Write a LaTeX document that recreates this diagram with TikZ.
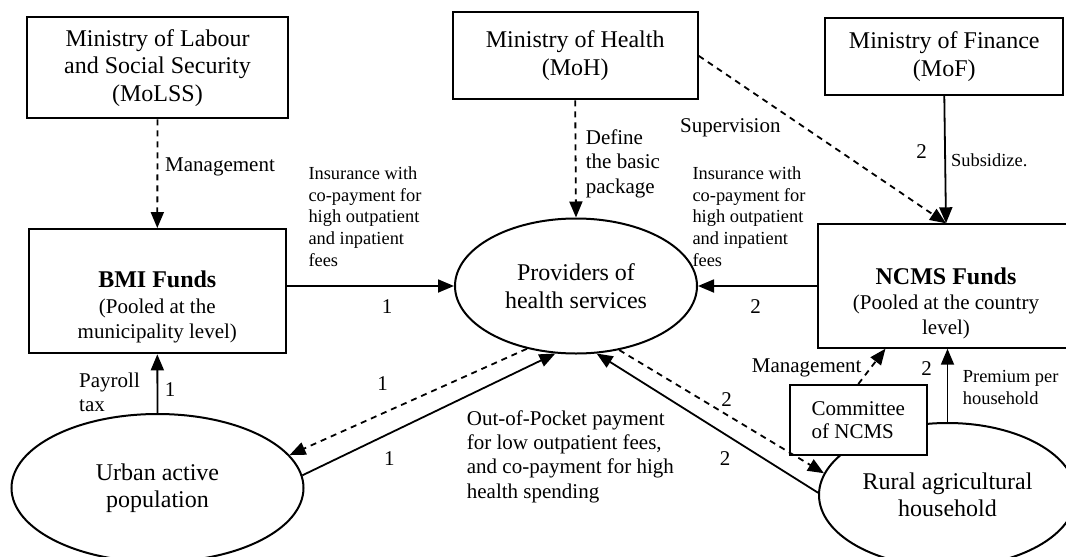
\documentclass[tikz,border=0pt]{standalone}
\usepackage{fontspec}
\setmainfont{Liberation Serif}
\usetikzlibrary{arrows.meta,shapes.geometric}
\newcommand\diagbig{\fontsize{24}{27.5}\selectfont}
\newcommand\diagmid{\fontsize{21}{24.4}\selectfont}
\newcommand\diagsmall{\fontsize{18.4}{21.7}\selectfont}
\begin{document}
\begin{tikzpicture}[x=1pt,y=-1pt,
  box/.style={draw, line width=2pt, rectangle, inner sep=0pt, align=center, font=\diagbig},
  oval/.style={draw, line width=2pt, ellipse, inner sep=0pt, align=center, font=\diagbig},
  flow/.style={line width=1.8pt, -{Triangle[length=16pt,width=13pt]}},
  ctrl/.style={flow, dash pattern=on 6pt off 5pt},
  lbl/.style={inner sep=0pt, align=left, font=\diagmid},
  small/.style={inner sep=0pt, align=left, font=\diagsmall},
  num/.style={inner sep=0pt, font=\diagmid},
]
\useasboundingbox (0,0) rectangle (1066,557);

% ministries
\node[box, minimum width=261.6pt, minimum height=101pt] (molss) at (157.5,67.8)
  {Ministry of Labour\\and Social Security\\(MoLSS)};
\node[box, minimum width=245pt, minimum height=87pt] (moh) at (575.2,55.8)
  {Ministry of Health\\(MoH)};
\node[box, minimum width=238pt, minimum height=76.7pt] (mof) at (944.3,56.7)
  {Ministry of Finance\\(MoF)};

% pooled funds
\node[box, minimum width=256.7pt, minimum height=124.3pt] (bmi) at (157.3,291.2) {};
\node[inner sep=0pt, align=center, font=\fontsize{21}{25.5}\selectfont] (bmitext) at (157.3,307)
  {{\fontsize{24}{25.5}\selectfont\bfseries BMI Funds}\\(Pooled at the\\municipality level)};
\node[box, minimum width=256pt, minimum height=123.4pt] (ncms) at (946,286) {};
\node[inner sep=0pt, align=center, font=\fontsize{21}{25}\selectfont] (ncmstext) at (946,303)
  {{\fontsize{24}{25}\selectfont\bfseries NCMS Funds}\\(Pooled at the country\\level)};

% providers and population groups
\node[oval, minimum width=242pt, minimum height=135pt] (prov) at (576,286)
  {Providers of\\health services};
\node[oval, minimum width=292pt, minimum height=148pt] (urban) at (157.5,488)
  {Urban active\\population};
\node[oval, minimum width=257pt, minimum height=144pt] (rural) at (947.5,495)
  {Rural agricultural\\household};
\node[box, fill=white, minimum width=136.7pt, minimum height=70pt, align=left,
  font=\fontsize{21}{23.3}\selectfont] (comm) at (858.3,420)
  {Committee\\of NCMS};

% management and supervision
\draw[ctrl] (molss.south) -- (bmi.north);
\draw[ctrl] (moh.south) -- (prov.north);
\draw[ctrl] (moh.east) -- (ncms.north);
\draw[flow] (mof.south) -- (ncms.north);
\draw[ctrl] (comm.north) -- (ncms.226.4);

% insurance payments to providers
\draw[flow] (bmi.east |- prov.west) -- (prov.west);
\draw[flow] (ncms.west |- prov.east) -- (prov.east);

% contributions into the funds
\draw[flow] (urban.north) -- (bmi.south);
\draw[flow] (rural.north) -- (rural.north |- ncms.south);

% services and out-of-pocket payments
\draw[ctrl] (prov.232) -- (urban.14);
\draw[flow] (urban.5.5) -- (prov.253);
\draw[flow] (rural.179) -- (prov.287);
\draw[ctrl] (prov.304) -- (rural.170);

% labels
\node[lbl, anchor=west] (lmgmt) at (165,167) {Management};
\node[small, anchor=west] (lins) at (308.3,216.7)
  {Insurance with\\co-payment for\\high outpatient\\and inpatient\\fees};
\node[num] (n1a) at (387,307) {1};
\node[lbl, anchor=west] (ldef) at (585.7,163.5) {Define\\the basic\\package};
\node[lbl, anchor=west] (lsup) at (680,127.3) {Supervision};
\node[small, anchor=west] (rins) at (692.3,216.7)
  {Insurance with\\co-payment for\\high outpatient\\and inpatient\\fees};
\node[num] (n2a) at (921.7,151.7) {2};
\node[small, anchor=west] (lsub) at (951,160) {Subsidize.};
\node[num] (n2b) at (755.7,306.7) {2};
\node[lbl, anchor=west] (lpay) at (79,392.5) {Payroll\\tax};
\node[num] (n1b) at (170,390) {1};
\node[num] (n1c) at (382.7,383.3) {1};
\node[num] (n1d) at (389.3,458.3) {1};
\node[lbl, anchor=west] (loop) at (466.7,456.6)
  {Out-of-Pocket payment\\for low outpatient fees,\\and co-payment for high\\health spending};
\node[num] (n2c) at (726.7,400) {2};
\node[num] (n2d) at (725,458.3) {2};
\node[lbl, anchor=east] (rmgmt) at (861.7,368.3) {Management};
\node[num] (n2e) at (926.7,368.3) {2};
\node[small, anchor=west] (lprem) at (962.7,387.8) {Premium per\\household};
\end{tikzpicture}
\end{document}
